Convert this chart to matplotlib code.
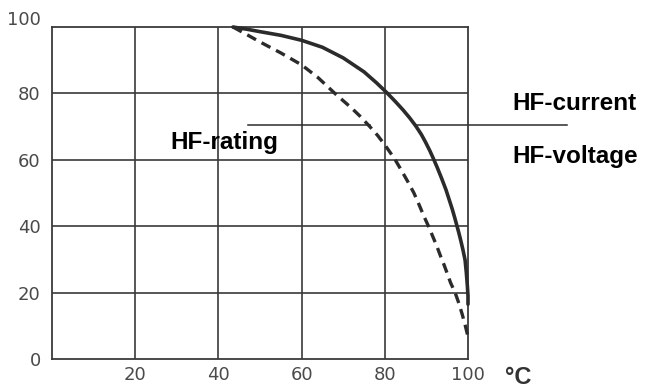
import matplotlib
matplotlib.use('Agg')
import matplotlib.pyplot as plt
import matplotlib.transforms as mtransforms

# values
current_t = [43.5, 47, 50, 55, 60, 65, 70, 75, 78, 80.5, 82.5, 84.4, 86.0, 87.5, 88.8, 89.8, 90.8, 91.6,
             92.6, 93.6, 94.7, 95.4, 96.2, 96.8, 97.3, 97.8, 98.3, 98.8, 99.3, 99.6, 99.85, 100, 100]
current_v = [100, 99.3, 98.6, 97.5, 96, 93.9, 90.7, 86.5, 83.2, 80.2, 77.6, 75, 72.6, 70.1, 67.6, 65.3, 62.8, 60.6,
             57.7, 54.6, 51, 48.3, 45.2, 42.6, 40.3, 38, 35.5, 32.8, 29.8, 26, 22, 19, 16.5]

voltage_t = [43.5, 47, 50, 55, 60, 64, 68, 72, 74, 76.4, 78.3, 80, 81.3, 82.5, 84, 85.5, 87, 88.3, 89.4,
             90.5, 91.5, 92.5, 93.4, 94.2, 95, 95.8, 96.9, 97.8, 98.6, 99.3, 100]
voltage_v = [100, 97.6, 95.5, 92.2, 88.6, 84.7, 80, 75.6, 73.2, 70, 67.3, 64.5, 62.2, 60, 56.8, 53.5, 50, 46.3, 43,
             40, 37, 34, 31, 28.5, 25.8, 23, 20, 16.8, 13.5, 10.3, 6.7]

x_ticks = [20, 40, 60, 80, 100]
y_ticks = [0, 20, 40, 60, 80, 100]
grid_vals = [20, 40, 60, 80]

ink = '#2b2b2b'
fig = plt.figure(figsize=(6.49, 3.87), dpi=100)
ax = fig.add_axes([0.0801, 0.0724, 0.6410, 0.8578])

# grid
for g in grid_vals:
    ax.axvline(g, color='#3a3a3a', linewidth=1.2, zorder=1)
    ax.axhline(g, color='#3a3a3a', linewidth=1.2, zorder=1)
for s in ax.spines.values():
    s.set_color('#3a3a3a')
    s.set_linewidth(1.3)

# curves
ax.plot(current_t, current_v, color=ink, linewidth=2.6, solid_capstyle='round',
        solid_joinstyle='round', zorder=3, clip_on=False)
ax.plot(voltage_t, voltage_v, color=ink, linewidth=2.4, dashes=(3, 1.9), zorder=3, clip_on=False)

# leader lines
ax.plot([47.1, 76.4], [70.6, 70.6], color=ink, linewidth=1.1, zorder=2)
ax.plot([87.7, 123.8], [70.6, 70.6], color=ink, linewidth=1.1, zorder=2, clip_on=False)

ax.set_xlim(0, 100)
ax.set_ylim(0, 100)
ax.set_xticks(x_ticks)
ax.set_yticks(y_ticks)
ax.tick_params(length=0, labelsize=13, labelcolor='#4a4a4a')
ax.tick_params(axis='x', pad=5)
ax.tick_params(axis='y', pad=8)

# "100" on the y axis sits a bit above its gridline
lbl = ax.get_yticklabels()[-1]
lbl.set_transform(lbl.get_transform() + mtransforms.ScaledTranslation(0, 0.09, fig.dpi_scale_trans))

tfont = dict(family=['Liberation Sans', 'DejaVu Sans'], fontweight='bold', fontsize=17.5, color='black')
fig.text(512 / 649, 1 - 104 / 387, 'HF-current', ha='left', va='center', **tfont)
fig.text(512 / 649, 1 - 156 / 387, 'HF-voltage', ha='left', va='center', **tfont)
fig.text(170 / 649, 1 - 143 / 387, 'HF-rating', ha='left', va='center', **tfont)
fig.text(505 / 649, 1 - 377 / 387, '°C', ha='left', va='center', family=['Liberation Sans', 'DejaVu Sans'],
         fontweight='bold', fontsize=17, color='#333333')

plt.savefig('out.png', dpi=100)
